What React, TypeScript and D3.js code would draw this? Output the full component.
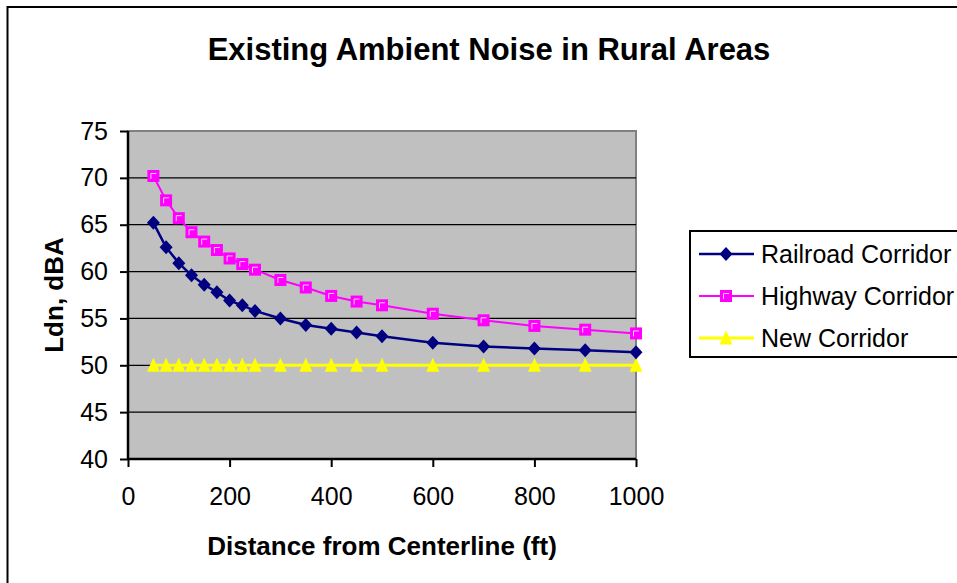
import * as d3 from 'd3'
import React, { useEffect, useRef } from 'react'

const distances = [50, 75, 100, 125, 150, 175, 200, 225, 250, 300, 350, 400, 450, 500, 600, 700, 800, 900, 1000]
const railroad = [65.2, 62.6, 60.9, 59.6, 58.6, 57.8, 56.9, 56.4, 55.8, 55.0, 54.3, 53.9, 53.5, 53.1, 52.4, 52.0, 51.8, 51.6, 51.4]
const highway = [70.2, 67.6, 65.7, 64.2, 63.2, 62.3, 61.4, 60.8, 60.2, 59.1, 58.3, 57.4, 56.8, 56.4, 55.5, 54.8, 54.2, 53.8, 53.4]
const newCorridor = [50, 50, 50, 50, 50, 50, 50, 50, 50, 50, 50, 50, 50, 50, 50, 50, 50, 50, 50]
const xTicks = [0, 200, 400, 600, 800, 1000]
const yTicks = [40, 45, 50, 55, 60, 65, 70, 75]
const seriesNames = ['Railroad Corridor', 'Highway Corridor', 'New Corridor']

const font = 'Arial, "Liberation Sans", sans-serif'

const App = (): JSX.Element => {
    const ref = useRef<SVGSVGElement>(null)
    const width = 957
    const height = 583
    const plot = { left: 128, right: 636, top: 131, bottom: 459 }

    useEffect(() => {
        const svg = d3.select(ref.current)
        svg.selectAll('*').remove()

        const x = d3.scaleLinear().domain([0, 1000]).range([plot.left, plot.right])
        const y = d3.scaleLinear().domain([40, 75]).range([plot.bottom, plot.top])

        // white background + outer chart border (runs off the right / bottom)
        svg.append('rect').attr('width', width).attr('height', height).attr('fill', '#fff')
        svg.append('rect')
            .attr('x', 7.5)
            .attr('y', 7)
            .attr('width', 1000)
            .attr('height', 700)
            .attr('fill', 'none')
            .attr('stroke', '#000')
            .attr('stroke-width', 2)

        svg.append('text')
            .attr('x', 489)
            .attr('y', 60)
            .attr('text-anchor', 'middle')
            .attr('font-family', font)
            .attr('font-weight', 'bold')
            .attr('font-size', 31)
            .text('Existing Ambient Noise in Rural Areas')

        // plot area
        svg.append('rect')
            .attr('x', plot.left)
            .attr('y', plot.top)
            .attr('width', plot.right - plot.left)
            .attr('height', plot.bottom - plot.top)
            .attr('fill', '#c0c0c0')
            .attr('stroke', '#808080')
            .attr('stroke-width', 2)

        svg.append('g')
            .selectAll('line')
            .data(yTicks.filter((t) => t > 40 && t < 75))
            .enter()
            .append('line')
            .attr('x1', plot.left)
            .attr('x2', plot.right)
            .attr('y1', (d) => y(d))
            .attr('y2', (d) => y(d))
            .attr('stroke', '#000')
            .attr('stroke-width', 1.3)

        // axes
        const yAxis = d3.axisLeft(y).tickValues(yTicks).tickSize(8).tickPadding(12)
        const gy = svg.append('g').attr('transform', `translate(${plot.left},0)`).call(yAxis)
        const xAxis = d3
            .axisBottom(x)
            .tickValues(xTicks)
            .tickFormat(d3.format('d'))
            .tickSize(8)
            .tickPadding(20)
        const gx = svg.append('g').attr('transform', `translate(0,${plot.bottom})`).call(xAxis)
        ;[gx, gy].forEach((g) => {
            g.select('.domain').attr('stroke', '#000').attr('stroke-width', 2.5)
            g.selectAll('.tick line').attr('stroke', '#000').attr('stroke-width', 2)
            g.selectAll('.tick text')
                .attr('font-family', font)
                .attr('font-size', 25)
                .attr('fill', '#000')
        })
        gx.select('.domain').attr('d', `M${plot.left},0H${plot.right}`)
        gy.select('.domain').attr('d', `M0,${plot.bottom}V${plot.top}`)

        svg.append('text')
            .attr('x', 382)
            .attr('y', 555)
            .attr('text-anchor', 'middle')
            .attr('font-family', font)
            .attr('font-weight', 'bold')
            .attr('font-size', 26)
            .text('Distance from Centerline (ft)')

        svg.append('text')
            .attr('transform', `translate(63,${(plot.top + plot.bottom) / 2}) rotate(-90)`)
            .attr('text-anchor', 'middle')
            .attr('font-family', font)
            .attr('font-weight', 'bold')
            .attr('font-size', 26)
            .text('Ldn, dBA')

        const series = [
            { name: seriesNames[0], values: railroad, color: '#000080', marker: 'diamond', sw: 2.5 },
            { name: seriesNames[1], values: highway, color: '#ff00ff', marker: 'square', sw: 2 },
            { name: seriesNames[2], values: newCorridor, color: '#ffff00', marker: 'triangle', sw: 3 },
        ]

        const drawMarker = (g, type, cx, cy) => {
            if (type === 'diamond') {
                g.append('path')
                    .attr('d', `M${cx},${cy - 7}L${cx + 6.5},${cy}L${cx},${cy + 7}L${cx - 6.5},${cy}Z`)
                    .attr('fill', '#000080')
            } else if (type === 'square') {
                g.append('rect')
                    .attr('x', cx - 5)
                    .attr('y', cy - 5)
                    .attr('width', 10)
                    .attr('height', 10)
                    .attr('fill', '#ff00ff')
                    .attr('stroke', '#ff00ff')
                    .attr('stroke-width', 2)
                g.append('path')
                    .attr('d', `M${cx - 2.5},${cy + 3}V${cy - 2.5}H${cx + 3}`)
                    .attr('fill', 'none')
                    .attr('stroke', '#ffd0ff')
                    .attr('stroke-width', 1)
            } else {
                g.append('path')
                    .attr('d', `M${cx},${cy - 7.5}L${cx + 6.5},${cy + 6.5}L${cx - 6.5},${cy + 6.5}Z`)
                    .attr('fill', '#ffff00')
            }
        }

        const line = d3
            .line<number>()
            .x((d, i) => x(distances[i]))
            .y((d) => y(d))

        // draw bottom series first so the navy line sits on top
        ;[...series].reverse().forEach((s) => {
            const g = svg.append('g')
            g.append('path')
                .attr('d', line(s.values))
                .attr('fill', 'none')
                .attr('stroke', s.color)
                .attr('stroke-width', s.sw)
            s.values.forEach((v, i) => drawMarker(g, s.marker, x(distances[i]), y(v)))
        })

        // legend
        const legend = svg.append('g')
        legend.append('rect')
            .attr('x', 690)
            .attr('y', 231)
            .attr('width', 300)
            .attr('height', 126)
            .attr('fill', '#fff')
            .attr('stroke', '#000')
            .attr('stroke-width', 2)
        series.forEach((s, i) => {
            const ly = 254 + i * 42
            legend.append('line')
                .attr('x1', 699)
                .attr('x2', 754)
                .attr('y1', ly)
                .attr('y2', ly)
                .attr('stroke', s.color)
                .attr('stroke-width', s.sw)
            drawMarker(legend, s.marker, 726, ly)
            legend.append('text')
                .attr('x', 761)
                .attr('y', ly + 9)
                .attr('font-family', font)
                .attr('font-size', 25)
                .text(s.name)
        })
    }, [])

    return (
        <svg
            ref={ref}
            width={width}
            height={height}
            style={{ position: 'absolute', left: 0, top: 0, display: 'block' }}
        />
    )
}

export default App
